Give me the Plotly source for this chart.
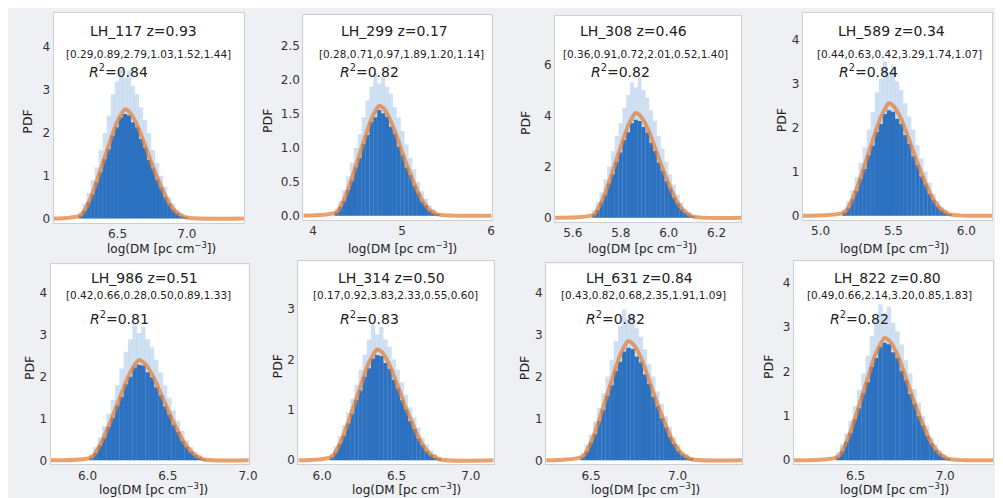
import numpy as np
import plotly.graph_objects as go

# panel texts
TITLES = ['LH_117 z=0.93', 'LH_299 z=0.17', 'LH_308 z=0.46', 'LH_589 z=0.34',
          'LH_986 z=0.51', 'LH_314 z=0.50', 'LH_631 z=0.84', 'LH_822 z=0.80']
PARAMS = ['[0.29,0.89,2.79,1.03,1.52,1.44]', '[0.28,0.71,0.97,1.89,1.20,1.14]',
          '[0.36,0.91,0.72,2.01,0.52,1.40]', '[0.44,0.63,0.42,3.29,1.74,1.07]',
          '[0.42,0.66,0.28,0.50,0.89,1.33]', '[0.17,0.92,3.83,2.33,0.55,0.60]',
          '[0.43,0.82,0.68,2.35,1.91,1.09]', '[0.49,0.66,2.14,3.20,0.85,1.83]']
R2 = ['0.84', '0.82', '0.82', '0.84', '0.81', '0.83', '0.82', '0.82']

# histogram bins: first edge and width in log(DM)
BIN_START = [6.22, 4.24, 5.68, 5.15, 6.01, 6.05, 6.44, 6.39]
BIN_WIDTH = [0.029, 0.0437, 0.0159, 0.0278, 0.027, 0.0278, 0.024, 0.0237]

# averaged histogram (solid) per panel
HIST_MEAN = [
    [0.07, 0.19, 0.38, 0.57, 0.85, 1.08, 1.39, 1.62, 1.94, 2.13, 2.36, 2.44, 2.41, 2.25, 2.13, 1.86, 1.66, 1.37, 1.17, 0.91, 0.72, 0.50, 0.35, 0.21, 0.13, 0.06, 0.02],
    [0.05, 0.13, 0.22, 0.38, 0.52, 0.71, 0.85, 1.06, 1.19, 1.38, 1.45, 1.56, 1.51, 1.46, 1.31, 1.21, 1.02, 0.89, 0.71, 0.60, 0.44, 0.34, 0.21, 0.15, 0.08, 0.04, 0.02],
    [0.12, 0.30, 0.60, 0.90, 1.34, 1.70, 2.19, 2.55, 3.04, 3.35, 3.70, 3.83, 3.79, 3.55, 3.34, 2.93, 2.61, 2.16, 1.84, 1.43, 1.14, 0.79, 0.56, 0.33, 0.20, 0.11, 0.04],
    [0.07, 0.18, 0.37, 0.56, 0.84, 1.06, 1.37, 1.59, 1.90, 2.08, 2.31, 2.39, 2.36, 2.20, 2.08, 1.83, 1.63, 1.35, 1.15, 0.89, 0.71, 0.49, 0.35, 0.21, 0.13, 0.06, 0.02],
    [0.07, 0.17, 0.36, 0.54, 0.80, 1.02, 1.31, 1.52, 1.82, 2.00, 2.22, 2.29, 2.27, 2.11, 1.99, 1.75, 1.56, 1.29, 1.10, 0.85, 0.68, 0.47, 0.33, 0.20, 0.12, 0.06, 0.02],
    [0.06, 0.16, 0.33, 0.49, 0.73, 0.93, 1.20, 1.39, 1.66, 1.83, 2.02, 2.09, 2.07, 1.93, 1.82, 1.60, 1.43, 1.19, 1.01, 0.78, 0.62, 0.43, 0.30, 0.18, 0.11, 0.05, 0.02],
    [0.08, 0.21, 0.42, 0.63, 0.94, 1.20, 1.54, 1.79, 2.14, 2.35, 2.60, 2.69, 2.66, 2.48, 2.34, 2.05, 1.83, 1.52, 1.29, 1.01, 0.79, 0.56, 0.39, 0.23, 0.14, 0.07, 0.03],
    [0.08, 0.20, 0.41, 0.62, 0.92, 1.17, 1.51, 1.76, 2.10, 2.30, 2.55, 2.64, 2.61, 2.43, 2.30, 2.01, 1.80, 1.49, 1.27, 0.99, 0.78, 0.55, 0.38, 0.23, 0.14, 0.07, 0.03],
]

# highest realisation per bin (faint spikes)
HIST_MAX = [
    [0.15, 0.35, 0.60, 0.90, 1.20, 1.60, 2.00, 2.40, 2.90, 3.20, 3.50, 3.30, 3.45, 3.10, 2.90, 2.60, 2.30, 2.00, 1.60, 1.30, 1.00, 0.75, 0.50, 0.35, 0.20, 0.12, 0.05],
    [0.10, 0.22, 0.38, 0.58, 0.78, 1.00, 1.20, 1.45, 1.70, 1.90, 2.10, 1.95, 2.05, 1.90, 1.80, 1.60, 1.45, 1.25, 1.05, 0.85, 0.68, 0.50, 0.36, 0.25, 0.15, 0.09, 0.04],
    [0.30, 0.60, 1.00, 1.50, 2.00, 2.60, 3.20, 3.70, 4.30, 4.80, 5.30, 5.10, 5.50, 5.00, 4.70, 4.20, 3.80, 3.20, 2.70, 2.20, 1.70, 1.30, 0.90, 0.60, 0.35, 0.20, 0.08],
    [0.15, 0.33, 0.58, 0.88, 1.20, 1.55, 1.95, 2.35, 2.80, 3.10, 3.50, 3.25, 3.40, 3.05, 2.85, 2.55, 2.25, 1.95, 1.60, 1.30, 1.00, 0.75, 0.50, 0.34, 0.20, 0.12, 0.05],
    [0.15, 0.32, 0.55, 0.82, 1.12, 1.45, 1.80, 2.20, 2.60, 2.90, 3.30, 3.05, 3.20, 2.90, 2.70, 2.40, 2.10, 1.80, 1.50, 1.20, 0.95, 0.70, 0.48, 0.32, 0.20, 0.11, 0.05],
    [0.12, 0.28, 0.48, 0.70, 0.95, 1.22, 1.50, 1.80, 2.10, 2.40, 2.70, 2.50, 2.65, 2.40, 2.25, 2.00, 1.80, 1.55, 1.30, 1.05, 0.85, 0.65, 0.45, 0.32, 0.20, 0.12, 0.06],
    [0.18, 0.38, 0.62, 0.92, 1.25, 1.60, 2.00, 2.40, 2.85, 3.20, 3.60, 3.35, 3.50, 3.15, 2.95, 2.65, 2.30, 2.00, 1.65, 1.35, 1.05, 0.80, 0.55, 0.38, 0.22, 0.13, 0.06],
    [0.18, 0.36, 0.60, 0.90, 1.22, 1.58, 1.95, 2.35, 2.80, 3.15, 3.50, 3.30, 3.45, 3.10, 2.90, 2.60, 2.25, 1.95, 1.60, 1.30, 1.00, 0.78, 0.52, 0.36, 0.22, 0.12, 0.05],
]

# fitted pdf at the bin centres
FIT_PDF = [
    [0.08, 0.20, 0.38, 0.61, 0.87, 1.15, 1.43, 1.71, 1.99, 2.24, 2.42, 2.55, 2.50, 2.37, 2.19, 1.96, 1.71, 1.45, 1.20, 0.97, 0.74, 0.54, 0.36, 0.23, 0.13, 0.08, 0.03],
    [0.05, 0.13, 0.24, 0.39, 0.55, 0.73, 0.91, 1.09, 1.26, 1.43, 1.54, 1.62, 1.59, 1.51, 1.39, 1.25, 1.09, 0.92, 0.76, 0.62, 0.47, 0.34, 0.23, 0.15, 0.08, 0.05, 0.02],
    [0.12, 0.33, 0.62, 0.98, 1.39, 1.85, 2.30, 2.75, 3.20, 3.61, 3.90, 4.10, 4.02, 3.81, 3.53, 3.16, 2.75, 2.34, 1.93, 1.56, 1.19, 0.86, 0.57, 0.37, 0.21, 0.12, 0.04],
    [0.08, 0.20, 0.38, 0.61, 0.87, 1.15, 1.43, 1.71, 1.99, 2.24, 2.42, 2.55, 2.50, 2.37, 2.19, 1.96, 1.71, 1.45, 1.20, 0.97, 0.74, 0.54, 0.36, 0.23, 0.13, 0.08, 0.03],
    [0.07, 0.19, 0.36, 0.58, 0.82, 1.08, 1.34, 1.61, 1.87, 2.11, 2.28, 2.40, 2.35, 2.23, 2.06, 1.85, 1.61, 1.37, 1.13, 0.91, 0.70, 0.50, 0.34, 0.22, 0.12, 0.07, 0.02],
    [0.07, 0.18, 0.33, 0.53, 0.75, 0.99, 1.23, 1.47, 1.72, 1.94, 2.09, 2.20, 2.16, 2.05, 1.89, 1.69, 1.47, 1.25, 1.03, 0.84, 0.64, 0.46, 0.31, 0.20, 0.11, 0.07, 0.02],
    [0.09, 0.23, 0.43, 0.68, 0.97, 1.28, 1.60, 1.91, 2.22, 2.51, 2.71, 2.85, 2.79, 2.65, 2.45, 2.19, 1.91, 1.62, 1.34, 1.08, 0.83, 0.60, 0.40, 0.26, 0.14, 0.09, 0.03],
    [0.08, 0.22, 0.41, 0.66, 0.94, 1.24, 1.54, 1.84, 2.15, 2.42, 2.61, 2.75, 2.70, 2.56, 2.37, 2.12, 1.84, 1.57, 1.29, 1.05, 0.80, 0.58, 0.39, 0.25, 0.14, 0.08, 0.03],
]

X_RANGE = [[6.04, 7.41], [3.89, 6.005], [5.526, 6.303], [4.878, 6.177],
           [5.77, 7.005], [5.84, 7.153], [6.241, 7.374], [6.156, 7.267]]
Y_MAX = [4.8, 2.96, 7.9, 4.6, 4.69, 3.95, 4.7, 4.47]
X_TICKS = [[6.5, 7.0], [4, 5, 6], [5.6, 5.8, 6.0, 6.2], [5.0, 5.5, 6.0],
           [6.0, 6.5, 7.0], [6.0, 6.5, 7.0], [6.5, 7.0], [6.5, 7.0]]
Y_TICKS = [[0, 1, 2, 3, 4], [0, 0.5, 1.0, 1.5, 2.0, 2.5], [0, 2, 4, 6], [0, 1, 2, 3, 4],
           [0, 1, 2, 3, 4], [0, 1, 2, 3], [0, 1, 2, 3, 4], [0, 1, 2, 3, 4]]

W, H = 1003, 498
FONT = 'DejaVu Sans'
# axes boxes in pixels: left, right, top, bottom
BOX = [(46, 238, 5, 216), (298, 488, 7, 213), (552, 740, 8, 215), (802, 993, 5, 213),
       (43, 243, 258, 459), (293, 490, 255, 459), (543, 741, 257, 459), (793, 994, 255, 459)]
# text anchors in pixels: title x, params x, R2 x, PDF x, xlabel x
TXT_X = [(137, 142, 112, 20, 155), (390, 397, 365, 262, 398), (631, 643, 618, 522, 640),
         (892, 900, 868, 780, 895), (138, 142, 113, 22, 147), (387, 391, 365, 272, 402),
         (637, 641, 613, 522, 643), (887, 889, 859, 768, 895)]


def px(x, y):
    return x / W, 1 - y / H


fig = go.Figure()
annotations = []
for i in range(8):
    n = len(HIST_MEAN[i])
    centers = BIN_START[i] + BIN_WIDTH[i] * (np.arange(n) + 0.5)
    xa, ya = f'x{i + 1}', f'y{i + 1}'
    bw = BIN_WIDTH[i] * 1.04
    fig.add_trace(go.Bar(x=centers, y=HIST_MAX[i], width=bw, xaxis=xa, yaxis=ya,
                         marker=dict(color='rgba(70,135,205,0.26)', line_width=0)))
    fig.add_trace(go.Bar(x=centers, y=HIST_MEAN[i], width=bw, xaxis=xa, yaxis=ya,
                         marker=dict(color='#2d72c0', line_width=0)))
    fit_x = [X_RANGE[i][0]] + list(centers) + [X_RANGE[i][1]]
    fit_y = [0.0] + FIT_PDF[i] + [0.0]
    fig.add_trace(go.Scatter(x=fit_x, y=fit_y, mode='lines', xaxis=xa, yaxis=ya,
                             line=dict(color='rgba(225,130,60,0.75)', width=4, shape='spline')))

    l, r, t, b = BOX[i]
    top_row = i < 4
    ax_common = dict(showline=True, mirror=True, linecolor='#cfcfcf', linewidth=1,
                     showgrid=False, zeroline=False, ticks='',
                     tickfont=dict(family=FONT, size=12, color='#333'))
    fig.layout[f'xaxis{i + 1}'] = dict(domain=[l / W, r / W], range=X_RANGE[i], anchor=ya,
                                       tickvals=X_TICKS[i],
                                       tickformat='d' if i == 1 else '.1f', **ax_common)
    fig.layout[f'yaxis{i + 1}'] = dict(domain=[1 - b / H, 1 - t / H],
                                       range=[-0.02 * Y_MAX[i], Y_MAX[i]], anchor=xa,
                                       tickvals=Y_TICKS[i],
                                       tickformat='.1f' if i == 1 else 'd', **ax_common)

    tx, prx, rx, pdfx, lx = TXT_X[i]
    ty, py, ry, ly = (23, 46, 63, 241) if top_row else (272, 289, 312, 484)
    for x, y, text, size in [(tx, ty, TITLES[i], 14), (prx, py, PARAMS[i], 10.5),
                             (rx, ry, f'<i>R</i><sup>2</sup>=' + R2[i], 14),
                             (lx, ly, 'log(DM [pc cm<sup>−3</sup>])', 12)]:
        ax_, ay_ = px(x, y)
        annotations.append(dict(x=ax_, y=ay_, xref='paper', yref='paper', text=text,
                                showarrow=False, xanchor='center', yanchor='middle',
                                font=dict(family=FONT, size=size, color='#222')))
    ax_, ay_ = px(pdfx, (t + b) / 2 + 4)
    annotations.append(dict(x=ax_, y=ay_, xref='paper', yref='paper', text='PDF',
                            textangle=-90, showarrow=False, xanchor='center', yanchor='middle',
                            font=dict(family=FONT, size=12.5, color='#222')))

fig.update_layout(width=W, height=H, margin=dict(l=0, r=0, t=0, b=0),
                  paper_bgcolor='#eef0f3', plot_bgcolor='white', barmode='overlay',
                  showlegend=False, annotations=annotations)

fig.write_html('out.html')
